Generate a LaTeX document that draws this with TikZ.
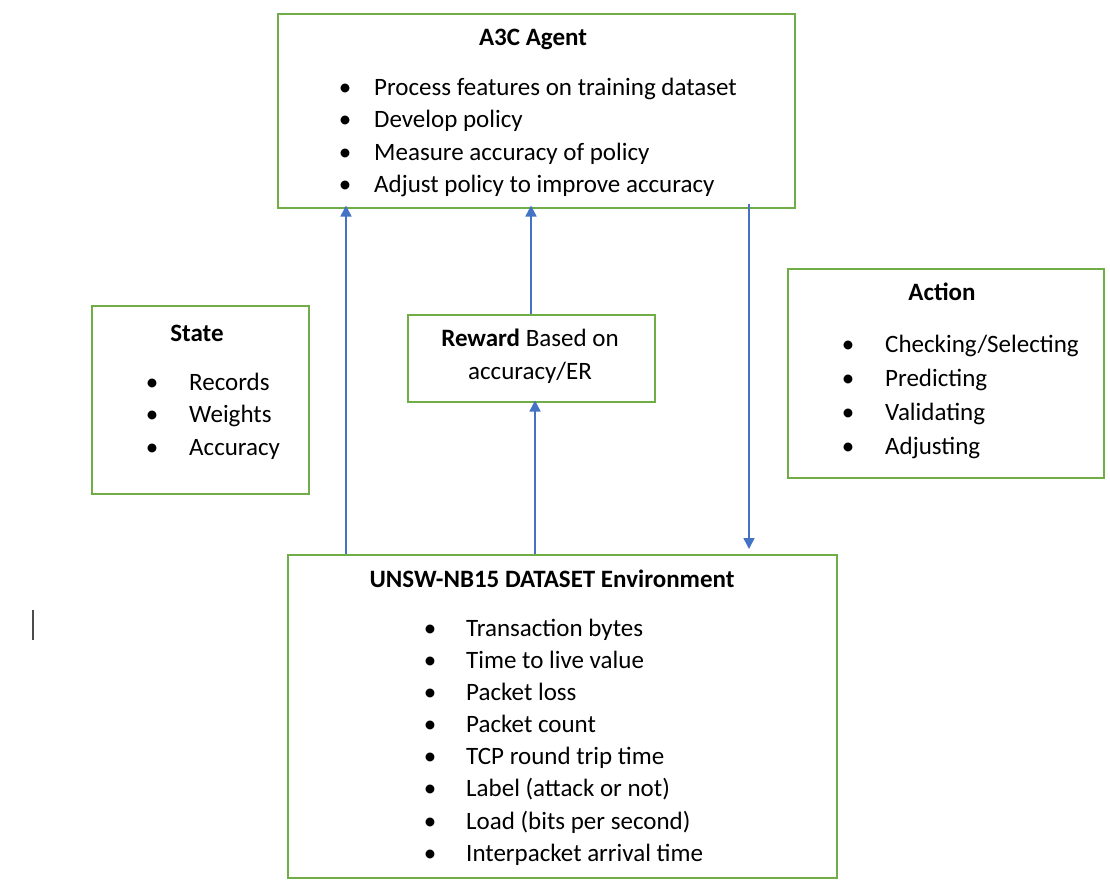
\documentclass[tikz,border=0pt]{standalone}
\usepackage{fontspec}
\setmainfont{Carlito}
\usetikzlibrary{arrows.meta}
\definecolor{boxgreen}{HTML}{70AD47}
\definecolor{linkblue}{HTML}{4472C4}
\begin{document}
\begin{tikzpicture}[x=1pt,y=-1pt,
  panel/.style={draw=boxgreen,line width=1.5pt,anchor=north west,inner sep=0pt},
  txt/.style={inner sep=0pt,font=\fontsize{25}{30}\selectfont},
  item/.style={txt,anchor=base west},
  dot/.style={txt,anchor=base},
  head/.style={txt,anchor=base,font=\fontsize{25}{30}\selectfont\bfseries},
  link/.style={draw=linkblue,line width=1.5pt,-{Triangle[width=11pt,length=11pt]}}]
\useasboundingbox (0,0) rectangle (1110,879);

% frames
\node[panel,minimum width=517,minimum height=194] (agent) at (277,13) {};
\node[panel,minimum width=217,minimum height=188] (state) at (91,305) {};
\node[panel,minimum width=247,minimum height=87] (reward) at (407,314) {};
\node[panel,minimum width=316,minimum height=209] (action) at (787,268) {};
\node[panel,minimum width=549,minimum height=323] (env) at (287,554) {};

% A3C agent
\node[head] (agentT) at (533,45) {A3C Agent};
\foreach \t [count=\i] in {Process features on training dataset,Develop policy,Measure accuracy of policy,Adjust policy to improve accuracy}{
  \node[dot] (agentB\i) at (345,{62.5+32.5*\i}) {\textbullet};
  \node[item] (agentI\i) at (374,{62.5+32.5*\i}) {\t};
}

% state
\node[head] (stateT) at (197,341) {State};
\foreach \t [count=\i] in {Records,Weights,Accuracy}{
  \node[dot] (stateB\i) at (152,{357.5+32.5*\i}) {\textbullet};
  \node[item] (stateI\i) at (189,{357.5+32.5*\i}) {\t};
}

% reward
\node[txt,anchor=base] (rewardL1) at (530,346) {\textbf{Reward} Based on};
\node[txt,anchor=base] (rewardL2) at (530,379) {accuracy/ER};

% action
\node[head] (actionT) at (942,300) {Action};
\foreach \t [count=\i] in {Checking/Selecting,Predicting,Validating,Adjusting}{
  \node[dot] (actionB\i) at (848,{318+34*\i}) {\textbullet};
  \node[item] (actionI\i) at (885,{318+34*\i}) {\t};
}

% environment
\node[head] (envT) at (552,587) {UNSW-NB15 DATASET Environment};
\foreach \t [count=\i] in {Transaction bytes,Time to live value,Packet loss,Packet count,TCP round trip time,Label (attack or not),Load (bits per second),Interpacket arrival time}{
  \node[dot] (envB\i) at (430,{604+32.15*\i}) {\textbullet};
  \node[item] (envI\i) at (466,{604+32.15*\i}) {\t};
}

% connector columns
\coordinate (colA) at (346,0);
\coordinate (colB) at (531,0);
\coordinate (colC) at (535,0);
\coordinate (colD) at (749,0);

\draw[link,shorten >=-3pt] (env.north -| colA) -- (agent.south -| colA);
\draw[link,shorten >=-3pt] (reward.north -| colB) -- (agent.south -| colB);
\draw[link,shorten >=-2pt] (env.north -| colC) -- (reward.south -| colC);
\draw[link,shorten <=-5pt,shorten >=5pt] (agent.south -| colD) -- (env.north -| colD);

% text cursor
\draw[line width=1.5pt,black!70] (33,610) -- (33,640);
\end{tikzpicture}
\end{document}
